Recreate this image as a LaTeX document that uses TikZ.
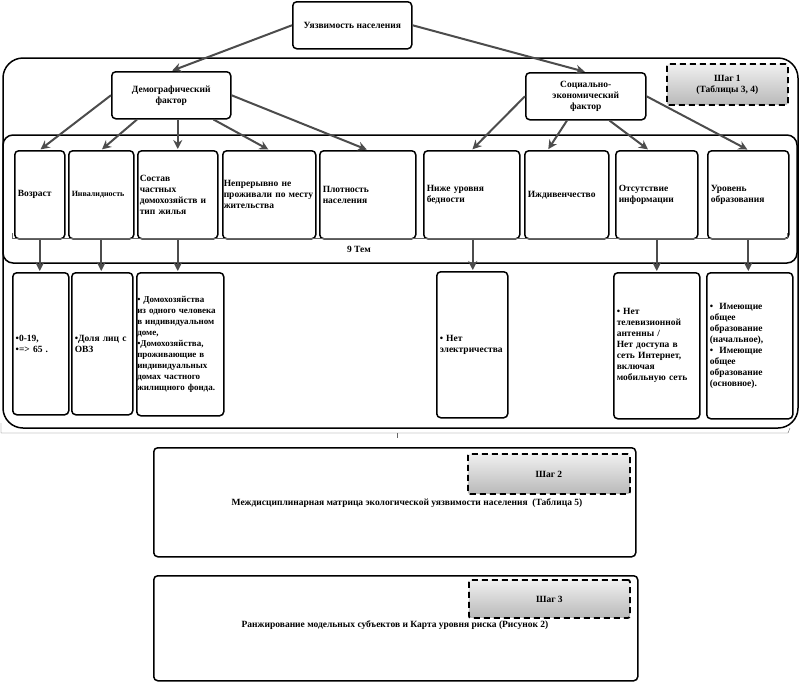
\documentclass[tikz,border=0pt]{standalone}
\usepackage{fontspec}
\setmainfont{Liberation Serif}
\usetikzlibrary{arrows.meta}

\begin{document}
\begin{tikzpicture}[
    x=1pt, y=-1pt,
    every node/.style={font=\fontsize{9.5}{11}\selectfont\bfseries},
    box/.style={rectangle, draw, line width=1.5pt, rounded corners=4pt, fill=white, align=center, inner sep=3pt, anchor=north west},
    theme/.style={box, align=left, minimum height=88pt},
    detail/.style={box, align=left},
    stepbox/.style={rectangle, draw, dash pattern=on 6pt off 4pt, line width=1.8pt, rounded corners=2pt, top color=gray!12, bottom color=gray!55, align=center, anchor=north west},
    arrow/.style={-{Stealth[length=9pt,width=9pt]}, line width=2pt, draw=black!70, shorten >=1pt},
    frame/.style={draw, line width=1.5pt},
    brace/.style={draw, thin, black!60}
]
\useasboundingbox (0,0) rectangle (801,681);

% Frames
\draw[frame, rounded corners=20pt] (3,58) rectangle (798,428);
\draw[frame, rounded corners=10pt] (3,135) rectangle (797,263);

% Top level
\node[box, minimum width=119pt, minimum height=47pt] (vuln) at (292,1) {Уязвимость населения};
\node[box, text width=113pt, minimum height=47pt] (demo) at (111,71) {Демографический\\фактор};
\node[box, text width=114pt, minimum height=47pt] (soc) at (525,72) {Социально-\\экономический\\фактор};
\node[stepbox, minimum width=121pt, minimum height=41pt] (step1) at (666,63) {Шаг 1\\(Таблицы 3, 4)};

% Themes
\node[theme, text width=44pt] (age) at (14,150) {Возраст};
\node[theme, text width=59pt, font=\fontsize{8}{10}\selectfont\bfseries] (inv) at (68,150) {Инвалидность};
\node[theme, text width=76pt, inner xsep=2pt] (sost) at (137,150) {Состав\\частных\\домохозяйств и\\тип жилья};
\node[theme, text width=91pt, inner xsep=1pt] (cont) at (222,150) {Непрерывно не\\проживали по месту\\жительства};
\node[theme, text width=90pt] (dens) at (319,150) {Плотность\\населения};
\node[theme, text width=90pt] (pov) at (423,150) {Ниже уровня\\бедности};
\node[theme, text width=78pt] (dep) at (524,150) {Иждивенчество};
\node[theme, text width=76pt] (info) at (615,150) {Отсутствие\\информации};
\node[theme, text width=75pt] (edu) at (707,150) {Уровень\\образования};

\draw[brace] (12,233) -- (12,238) -- (787,238) -- (787,233);
\node (tem) at (359,249) {9 Тем};

% Details
\node[detail, text width=50pt, minimum height=142pt] (d1) at (12,272) {•0-19,\\•=> 65 .};
\node[detail, text width=55pt, minimum height=142pt] (d2) at (71,272) {•Доля лиц с\\ОВЗ};
\node[detail, text width=86pt, minimum height=143pt, inner xsep=0.5pt, font=\fontsize{9}{11}\selectfont\bfseries] (d3) at (136,272) {• Домохозяйства\\из одного человека\\в индивидуальном\\доме,\\•Домохозяйства,\\проживающие в\\индивидуальных\\домах частного\\жилищного фонда.};
\node[detail, text width=65pt, minimum height=146pt] (d4) at (436,271) {• Нет\\электричества};
\node[detail, text width=80pt, minimum height=146pt] (d5) at (613,272) {• Нет\\телевизионной\\антенны /\\Нет доступа в\\сеть Интернет,\\включая\\мобильную сеть};
\node[detail, text width=80pt, minimum height=146pt] (d6) at (706,272) {•\ \ Имеющие\\общее\\образование\\(начальное),\\•\ \ Имеющие\\общее\\образование\\(основное).};

\draw[brace] (1,423) -- (1,433) -- (788,433) -- (790,428);
\draw[brace] (397,433) -- (397,438);

% Steps 2 and 3
\node[box, minimum width=482pt, minimum height=109pt] (step2) at (153,447) {};
\node[stepbox, minimum width=162pt, minimum height=40pt] (s2) at (467,453) {Шаг 2};
\node (m2) at (407,503) {Междисциплинарная матрица экологической уязвимости населения \ (Таблица 5)};

\node[box, minimum width=484pt, minimum height=105pt] (step3) at (153,575) {};
\node[stepbox, minimum width=161pt, minimum height=38pt] (s3) at (468,579) {Шаг 3};
\node (m3) at (395,625) {Ранжирование модельных субъектов и Карта уровня риска (Рисунок 2)};

% Connections
\draw[arrow] (vuln.west) -- (demo.north);
\draw[arrow] (vuln.east) -- (soc.north);
\draw[arrow] (demo.west) -- (age.north);
\draw[arrow] ([xshift=26pt]demo.south west) -- (inv.north);
\draw[arrow] (demo.south -| sost.north) -- (sost.north);
\draw[arrow] ([xshift=-18pt]demo.south east) -- (cont.north);
\draw[arrow] (demo.east) -- (dens.north);
\draw[arrow] (soc.west) -- (pov.north);
\draw[arrow] ([xshift=42pt]soc.south west) -- ([xshift=-19pt]dep.north);
\draw[arrow] ([xshift=-37pt]soc.south east) -- ([xshift=-8pt]info.north);
\draw[arrow] (soc.east) -- (edu.north);
\foreach \a/\b in {age/d1, inv/d2, sost/d3, info/d5, edu/d6}
    \draw[arrow] (\a.south) -- (\a.south |- \b.north);
\draw[arrow] ([xshift=1pt]pov.south) -- ([xshift=1pt]pov.south |- d4.north);

\end{tikzpicture}
\end{document}
